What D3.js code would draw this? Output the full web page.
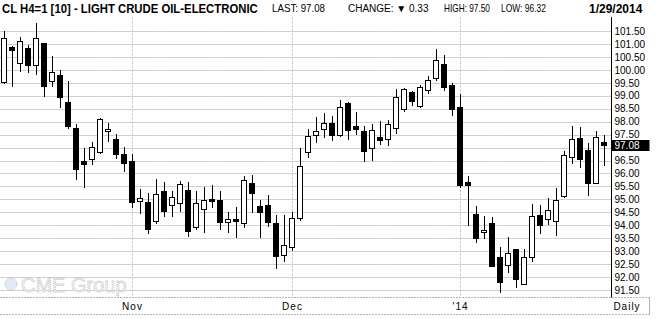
<!DOCTYPE html>
<html>
<head>
<meta charset="utf-8">
<script src="https://cdn.jsdelivr.net/npm/d3@7"></script>
<style>
  body { margin: 0; background: #fff; }
  text { font-family: "Liberation Sans", Arial, sans-serif; }
</style>
</head>
<body>
<svg width="656" height="319"></svg>
<script>
// trading days, Oct 10 2013 .. Jan 29 2014
var dates = [
  "2013-10-10","2013-10-11","2013-10-14","2013-10-15","2013-10-16","2013-10-17","2013-10-18","2013-10-21",
  "2013-10-22","2013-10-23","2013-10-24","2013-10-25","2013-10-28","2013-10-29","2013-10-30","2013-10-31",
  "2013-11-01","2013-11-04","2013-11-05","2013-11-06","2013-11-07","2013-11-08","2013-11-11","2013-11-12",
  "2013-11-13","2013-11-14","2013-11-15","2013-11-18","2013-11-19","2013-11-20","2013-11-21","2013-11-22",
  "2013-11-25","2013-11-26","2013-11-27","2013-11-29",
  "2013-12-02","2013-12-03","2013-12-04","2013-12-05","2013-12-06","2013-12-09","2013-12-10","2013-12-11",
  "2013-12-12","2013-12-13","2013-12-16","2013-12-17","2013-12-18","2013-12-19","2013-12-20","2013-12-23",
  "2013-12-24","2013-12-26","2013-12-27","2013-12-30","2013-12-31",
  "2014-01-02","2014-01-03","2014-01-06","2014-01-07","2014-01-08","2014-01-09","2014-01-10","2014-01-13",
  "2014-01-14","2014-01-15","2014-01-16","2014-01-17","2014-01-21","2014-01-22","2014-01-23","2014-01-24",
  "2014-01-27","2014-01-28","2014-01-29"
];

var openP = [
  99.55,100.88,100.28,100.84,100.20,101.02,99.56,99.80,98.75,97.75,
  96.48,96.55,96.84,97.63,97.32,96.75,96.48,94.92,94.89,94.15,
  95.31,94.77,94.85,95.35,93.94,94.62,95.00,94.96,94.11,94.23,
  94.08,95.62,94.73,94.77,94.07,92.84,93.17,94.28,96.82,97.47,
  97.70,97.94,97.50,98.73,97.82,97.64,97.00,97.40,97.32,97.74,
  98.48,99.13,98.60,99.21,99.67,100.23,99.40,98.55,95.66,94.42,
  93.73,94.07,92.76,92.45,93.07,91.72,92.79,94.38,94.23,94.18,
  95.13,96.62,97.36,96.91,95.62,97.20
];
var highP = [
  101.50,100.92,101.26,100.96,101.82,101.05,100.53,99.99,99.56,97.91,
  97.00,97.21,98.15,97.96,97.52,97.03,96.75,95.39,95.23,95.77,
  95.66,95.31,95.70,95.66,95.31,95.47,95.54,95.31,94.50,94.69,
  95.90,95.93,94.96,95.17,94.38,94.38,94.51,96.98,97.73,98.18,
  98.35,98.22,98.84,98.77,98.37,97.83,97.91,98.04,98.06,99.25,
  99.31,99.19,99.42,99.76,100.81,100.56,99.50,99.07,95.90,94.74,
  94.36,94.31,93.15,93.55,93.07,93.07,94.82,94.77,95.06,95.44,
  96.88,97.83,97.78,97.18,97.64,97.50
];
var lowP = [
  99.48,99.39,99.97,99.93,99.84,99.00,99.39,98.58,97.77,95.77,
  95.47,96.35,96.78,97.26,96.58,96.11,94.72,94.49,93.71,94.10,
  94.37,94.37,94.56,93.60,93.87,93.75,94.69,93.87,93.73,93.56,
  93.94,94.50,93.53,93.96,92.34,92.63,93.06,94.20,96.62,97.21,
  97.40,97.29,97.46,97.34,97.52,96.49,96.52,97.14,97.10,97.57,
  98.42,98.63,98.55,99.12,99.61,99.22,98.27,95.49,94.02,93.36,
  93.50,92.44,91.43,92.18,91.63,91.72,92.61,93.71,94.04,93.64,
  95.10,96.39,96.24,95.18,95.62,96.32
];
var closeP = [
  101.22,100.78,101.11,100.20,101.22,99.39,99.91,98.94,97.84,96.18,
  96.35,97.01,98.09,97.72,96.74,96.42,94.89,95.06,93.87,95.19,
  94.56,95.08,95.58,93.79,94.85,94.96,94.92,94.11,94.23,94.18,
  95.74,95.23,94.50,94.14,92.82,93.23,94.27,96.29,97.43,97.64,
  97.94,97.50,98.55,97.67,97.70,96.86,97.68,97.30,97.90,98.94,
  99.25,98.81,99.33,99.60,100.37,99.35,98.50,95.55,95.57,93.52,
  93.80,92.44,91.82,92.92,91.94,92.76,94.36,94.02,94.58,94.96,
  96.70,97.32,96.57,95.64,97.40,97.08
];

var priceTicks = [91.5,92,92.5,93,93.5,94,94.5,95,95.5,96,96.5,97,97.5,98,98.5,99,99.5,100,100.5,101,101.5];
var monthDates = ["2013-11-01","2013-12-02","2014-01-02"];
var monthLabels = ["Nov","Dec","'14"];

var lastPrice = 97.08;

(function () {
    'use strict';

    var svg = d3.select("svg");
    var plotTop = 17, plotBottom = 297.5, axisX = 611.5;

    var x = d3.scaleBand().domain(dates).range([0.5, 608.5]).padding(0);
    var y = d3.scaleLinear().domain([91.5, 101.5]).range([290, 31]);

    var cx = function (d) { return x(d) + x.bandwidth() / 2; };
    var crisp = function (v) { return Math.round(v) + 0.5; };

    // squeeze a text horizontally to a given width (narrow bitmap font look)
    var fitWidth = function (sel, x0, w) {
        sel.each(function () {
            var len = this.getComputedTextLength();
            var k = Math.min(1, w / len);
            d3.select(this).attr("x", 0)
                .attr("transform", "translate(" + x0 + ",0) scale(" + k + ",1)");
        });
    };

    // grid
    var grid = svg.append("g").attr("class", "grid");
    grid.selectAll(".hg").data(priceTicks).enter().append("line")
        .attr("x1", 0).attr("x2", axisX)
        .attr("y1", function (d) { return crisp(y(d)); })
        .attr("y2", function (d) { return crisp(y(d)); })
        .attr("stroke", "#e2cfe2").attr("stroke-width", 1);
    grid.selectAll(".hg2").data(priceTicks).enter().append("line")
        .attr("x1", 0).attr("x2", axisX)
        .attr("y1", function (d) { return crisp(y(d)); })
        .attr("y2", function (d) { return crisp(y(d)); })
        .attr("stroke", "#c7d3c7").attr("stroke-width", 1)
        .attr("stroke-dasharray", "5,2");
    grid.selectAll(".vg").data(monthDates).enter().append("line")
        .attr("x1", function (d) { return crisp(cx(d) - 0.5); })
        .attr("x2", function (d) { return crisp(cx(d) - 0.5); })
        .attr("y1", plotTop).attr("y2", plotBottom)
        .attr("stroke", "#d6c8d6").attr("stroke-dasharray", "3,1");

    // bottom band
    svg.append("line").attr("x1", 0).attr("x2", 650).attr("y1", plotBottom).attr("y2", plotBottom)
        .attr("stroke", "#b8b0b8").attr("stroke-dasharray", "2,1");
    svg.append("line").attr("x1", 0).attr("x2", 650).attr("y1", 314.5).attr("y2", 314.5)
        .attr("stroke", "#b8b0b8").attr("stroke-dasharray", "2,1");
    svg.append("line").attr("x1", 649.5).attr("x2", 649.5).attr("y1", plotBottom).attr("y2", 314.5)
        .attr("stroke", "#b8b0b8");

    // watermark
    var wm = svg.append("g").attr("class", "watermark");
    wm.append("circle").attr("cx", 11).attr("cy", 284).attr("r", 6)
        .attr("fill", "#e4eaf5").attr("stroke", "#a9b9d6").attr("stroke-dasharray", "1,1");
    wm.append("text").attr("x", 21).attr("y", 292).text("CME Group")
        .attr("font-size", "20px").attr("fill", "#f6f6f6")
        .attr("stroke", "#bdbdbd").attr("stroke-width", 0.8).attr("stroke-dasharray", "1.2,0.8");

    // candles
    var candles = dates.map(function (d, i) {
        return { date: d, o: openP[i], h: highP[i], l: lowP[i], c: closeP[i] };
    });

    var g = svg.append("g").attr("class", "candles");
    g.selectAll(".wick").data(candles).enter().append("line")
        .attr("class", "wick")
        .attr("x1", function (d) { return cx(d.date); })
        .attr("x2", function (d) { return cx(d.date); })
        .attr("y1", function (d) { return Math.round(y(d.h)); })
        .attr("y2", function (d) { return Math.round(y(d.l)) + 1; })
        .attr("stroke", "#000").attr("stroke-width", 1);

    g.selectAll(".body").data(candles).enter().append("rect")
        .attr("class", "body")
        .attr("x", function (d) { return cx(d.date) - 3; })
        .attr("y", function (d) { return crisp(y(Math.max(d.o, d.c))); })
        .attr("width", 5)
        .attr("height", function (d) {
            return Math.max(1, Math.round(y(Math.min(d.o, d.c))) - Math.round(y(Math.max(d.o, d.c))));
        })
        .attr("fill", function (d) { return d.c >= d.o ? "#fff" : "#000"; })
        .attr("stroke", "#000").attr("stroke-width", 1);

    // right axis
    var lastY = y(lastPrice);
    var axis = d3.axisRight(y)
        .tickValues(priceTicks.filter(function (t) { return Math.abs(y(t) - lastY) > 8; }))
        .tickSize(0).tickPadding(3)
        .tickFormat(d3.format(".2f"));
    var ag = svg.append("g").attr("transform", "translate(" + axisX + ",0)").call(axis);
    ag.select(".domain").remove();
    ag.selectAll("text").attr("font-size", "10px").attr("font-family", "Liberation Sans, Arial, sans-serif")
        .attr("fill", "#000");
    svg.append("line").attr("x1", axisX).attr("x2", axisX).attr("y1", plotTop).attr("y2", plotBottom)
        .attr("stroke", "#000");

    svg.append("rect").attr("x", axisX).attr("y", Math.round(lastY) - 5).attr("width", 38).attr("height", 11)
        .attr("fill", "#000");
    svg.append("text").attr("x", axisX + 3).attr("y", lastY).attr("dy", "0.35em")
        .attr("font-size", "10px").attr("fill", "#fff").text(d3.format(".2f")(lastPrice));

    // month labels
    svg.selectAll(".mlab").data(monthDates).enter().append("text")
        .attr("x", function (d) { return cx(d); })
        .attr("y", 310)
        .attr("text-anchor", "middle")
        .attr("font-size", "10px").attr("letter-spacing", "1px")
        .text(function (d, i) { return monthLabels[i]; });
    svg.append("text").attr("x", 627).attr("y", 310).attr("text-anchor", "middle")
        .attr("font-size", "10px").attr("letter-spacing", "1px").text("Daily");

    // header
    svg.append("text").attr("y", 13)
        .attr("font-size", "13px").attr("font-weight", "bold")
        .text("CL H4=1 [10] - LIGHT CRUDE OIL-ELECTRONIC")
        .call(fitWidth, 2, 256);
    var hdr = [
        { x: 272, w: 53, t: "LAST: 97.08" },
        { x: 348, w: 85, t: "CHANGE: \u25BC 0.33" },
        { x: 444, w: 46, t: "HIGH: 97.50" },
        { x: 501, w: 45, t: "LOW: 96.32" }
    ];
    svg.selectAll(".hdr").data(hdr).enter().append("text")
        .attr("y", 12)
        .attr("font-size", "10px")
        .text(function (d) { return d.t; })
        .each(function (d) { d3.select(this).call(fitWidth, d.x, d.w); });
    svg.append("text").attr("x", 589).attr("y", 13)
        .attr("font-size", "12px").attr("font-weight", "bold").text("1/29/2014");
}());
</script>
</body>
</html>
